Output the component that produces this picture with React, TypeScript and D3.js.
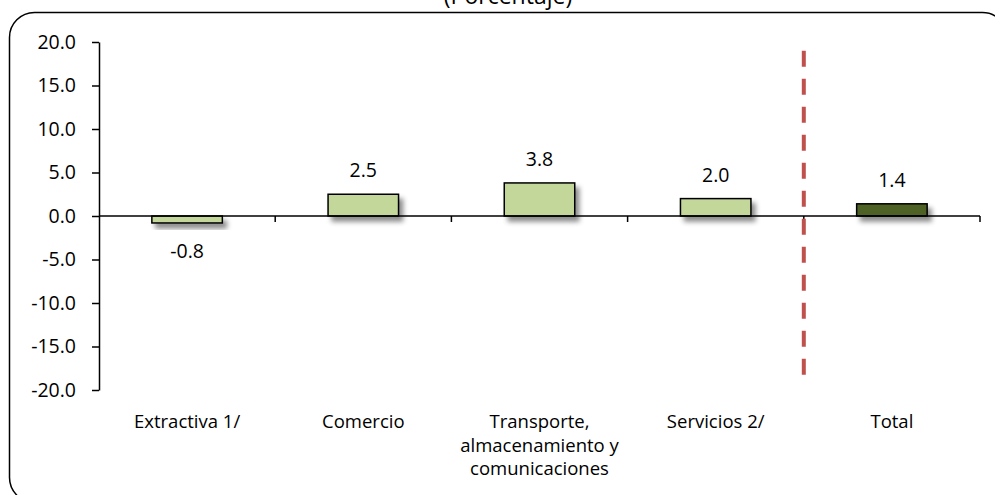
import React, { useEffect, useRef } from 'react'
import * as d3 from 'd3'

// data
const categories = ['Extractiva 1/', 'Comercio', 'Transporte, almacenamiento y comunicaciones', 'Servicios 2/', 'Total']
const values = [-0.8, 2.5, 3.8, 2.0, 1.4]
const barColors = ['#C4D79B', '#C4D79B', '#C4D79B', '#C4D79B', '#4F6228']
const yTicks = [-20, -15, -10, -5, 0, 5, 10, 15, 20]
const dividerRange = [-19, 19] // dashed separator before "Total"
const title = '(Porcentaje)'

const font = "'Open Sans', sans-serif"

function wrap(text: any, width: number, lineHeight: number) {
  text.each(function (this: SVGTextElement) {
    const t = d3.select(this)
    const words = t.text().split(/\s+/)
    const x = t.attr('x')
    t.text(null)
    let line: string[] = []
    let tspan = t.append('tspan').attr('x', x).attr('dy', 0)
    for (const w of words) {
      line.push(w)
      tspan.text(line.join(' '))
      if ((tspan.node() as SVGTSpanElement).getComputedTextLength() > width && line.length > 1) {
        line.pop()
        tspan.text(line.join(' '))
        line = [w]
        tspan = t.append('tspan').attr('x', x).attr('dy', lineHeight).text(w)
      }
    }
  })
}

export default function App() {
  const ref = useRef<SVGSVGElement>(null)

  useEffect(() => {
    const svg = d3.select(ref.current)
    svg.selectAll('*').remove()

    const y = d3.scaleLinear().domain([-20, 20]).range([390, 42])
    const x = d3.scaleBand<string>().domain(categories).range([99, 980]).paddingInner(0.6).paddingOuter(0.3)
    const step = x.step()
    const x0 = 99

    const defs = svg.append('defs')
    defs.append('filter')
      .attr('id', 'shadow')
      .attr('x', '-20%').attr('y', '-50%').attr('width', '150%').attr('height', '250%')
      .append('feDropShadow')
      .attr('dx', 4).attr('dy', 5)
      .attr('stdDeviation', 2.5)
      .attr('flood-color', '#000')
      .attr('flood-opacity', 0.45)

    // frame
    svg.append('rect')
      .attr('x', 9.5).attr('y', 12.5)
      .attr('width', 998).attr('height', 490)
      .attr('rx', 25)
      .attr('fill', 'none')
      .attr('stroke', '#000')
      .attr('stroke-width', 1.5)

    svg.append('text')
      .attr('x', 508).attr('y', 4)
      .attr('text-anchor', 'middle')
      .attr('font-family', font).attr('font-size', 23)
      .text(title)

    // y axis
    const yAxis = svg.append('g')
      .attr('transform', `translate(${x0},0)`)
      .call(d3.axisLeft(y).tickValues(yTicks).tickFormat(d => (+d).toFixed(1)).tickSize(7).tickSizeOuter(0).tickPadding(16))
    yAxis.selectAll('path, line').attr('stroke', '#000').attr('stroke-width', 1.5)
    yAxis.selectAll('text').attr('font-family', font).attr('font-size', 19.5).attr('fill', '#000')

    // bars
    svg.append('g')
      .selectAll('rect')
      .data(values)
      .join('rect')
      .attr('x', (d, i) => x(categories[i])!)
      .attr('y', d => Math.min(y(d), y(0)))
      .attr('width', x.bandwidth())
      .attr('height', d => Math.abs(y(d) - y(0)))
      .attr('fill', (d, i) => barColors[i])
      .attr('stroke', '#000')
      .attr('stroke-width', 1.5)
      .attr('filter', 'url(#shadow)')

    // x axis line + category ticks
    svg.append('line')
      .attr('x1', x0).attr('x2', x0 + step * categories.length)
      .attr('y1', y(0)).attr('y2', y(0))
      .attr('stroke', '#000').attr('stroke-width', 1.5)
    svg.append('g')
      .selectAll('line')
      .data(d3.range(1, categories.length + 1))
      .join('line')
      .attr('x1', i => x0 + i * step).attr('x2', i => x0 + i * step)
      .attr('y1', y(0)).attr('y2', y(0) + 6)
      .attr('stroke', '#000').attr('stroke-width', 1.5)

    // value labels
    svg.append('g')
      .selectAll('text')
      .data(values)
      .join('text')
      .attr('x', (d, i) => x(categories[i])! + x.bandwidth() / 2)
      .attr('y', d => (d >= 0 ? y(d) - 17 : y(d) + 35))
      .attr('text-anchor', 'middle')
      .attr('font-family', font).attr('font-size', 19.5)
      .text(d => d.toFixed(1))

    // dashed divider
    const xd = x0 + (categories.length - 1) * step
    svg.append('line')
      .attr('x1', xd).attr('x2', xd)
      .attr('y1', y(dividerRange[1])).attr('y2', y(dividerRange[0]))
      .attr('stroke', '#C0504D')
      .attr('stroke-width', 4)
      .attr('stroke-dasharray', '16,12')

    // category labels
    svg.append('g')
      .selectAll('text')
      .data(categories)
      .join('text')
      .attr('x', d => x(d)! + x.bandwidth() / 2)
      .attr('y', 428)
      .attr('text-anchor', 'middle')
      .attr('font-family', font).attr('font-size', 18.5)
      .text(d => d)
      .call(wrap, 170, 23.5)
  }, [])

  return <svg ref={ref} width={995} height={495} style={{ position: 'absolute', left: 0, top: 0 }} />
}
